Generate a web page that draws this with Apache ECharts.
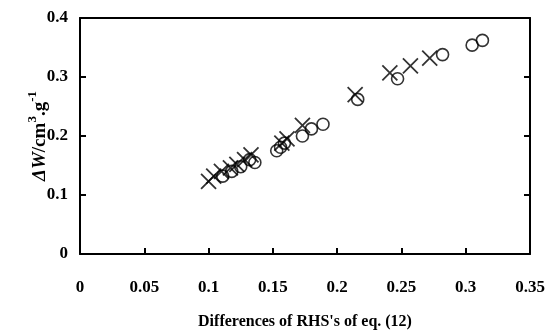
<!DOCTYPE html>
<html><head><meta charset="utf-8">
<script src="https://cdn.jsdelivr.net/npm/echarts@6/dist/echarts.min.js"></script>
<style>html,body{margin:0;padding:0;background:#fff}#c{width:548px;height:335px}</style>
</head><body><div id="c"></div>
<script>
const xTicks = [0, 0.05, 0.1, 0.15, 0.2, 0.25, 0.3, 0.35];
const yTicks = [0, 0.1, 0.2, 0.3, 0.4];
const crossX = [0.100, 0.104, 0.110, 0.117, 0.122, 0.128, 0.133, 0.157, 0.161, 0.173, 0.214, 0.241, 0.257, 0.272];
const crossY = [0.123, 0.132, 0.140, 0.146, 0.152, 0.160, 0.168, 0.188, 0.195, 0.218, 0.270, 0.307, 0.319, 0.332];
const circX = [0.111, 0.118, 0.125, 0.132, 0.136, 0.153, 0.156, 0.159, 0.173, 0.180, 0.189, 0.216, 0.247, 0.282, 0.305, 0.313];
const circY = [0.132, 0.140, 0.148, 0.160, 0.155, 0.175, 0.181, 0.188, 0.200, 0.212, 0.220, 0.262, 0.297, 0.338, 0.354, 0.362];

const font = 'Liberation Serif';
const zip = (a, b) => a.map((v, i) => [v, b[i]]);
const chart = echarts.init(document.getElementById('c'));
const lineStyle = {color: '#000', width: 2};
chart.setOption({
  animation: false,
  grid: {left: 80, right: 18, top: 18, bottom: 74},
  xAxis: [{
    type: 'value', min: 0, max: 0.35, interval: 0.05,
    axisLine: {show: true, onZero: false, lineStyle},
    axisTick: {show: true, inside: true, length: 6, lineStyle},
    splitLine: {show: false},
    axisLabel: {margin: 25, color: '#000', fontFamily: font, fontWeight: 'bold', fontSize: 17,
      formatter: v => String(+v.toFixed(2))},
    name: "Differences of RHS's of eq. (12)", nameLocation: 'middle', nameGap: 60,
    nameTextStyle: {color: '#000', fontFamily: font, fontWeight: 'bold', fontSize: 16}
  }, {
    type: 'value', position: 'top', min: 0, max: 0.35, interval: 0.05,
    axisLine: {show: true, onZero: false, lineStyle},
    axisTick: {show: false}, axisLabel: {show: false}, splitLine: {show: false}
  }],
  yAxis: [{
    type: 'value', min: 0, max: 0.4, interval: 0.1,
    axisLine: {show: true, onZero: false, lineStyle},
    axisTick: {show: true, inside: true, length: 6, lineStyle},
    splitLine: {show: false},
    axisLabel: {margin: 12, color: '#000', fontFamily: font, fontWeight: 'bold', fontSize: 17,
      formatter: v => String(+v.toFixed(1))},
    name: '{i|ΔW}{n|/cm}{s|3}{n|.g}{s|-1}', nameLocation: 'middle', nameGap: 30, nameRotate: 90,
    nameMoveOverlap: false,
    nameTextStyle: {
      color: '#000', fontFamily: font, fontWeight: 'bold', fontSize: 19,
      rich: {
        i: {fontStyle: 'italic', fontWeight: 'bold', fontFamily: font, fontSize: 19, color: '#000', lineHeight: 24, verticalAlign: 'bottom'},
        n: {fontWeight: 'bold', fontFamily: font, fontSize: 19, color: '#000', lineHeight: 24, verticalAlign: 'bottom'},
        s: {fontWeight: 'bold', fontFamily: font, fontSize: 13, color: '#000', lineHeight: 24, verticalAlign: 'top'}
      }
    }
  }, {
    type: 'value', position: 'right', min: 0, max: 0.4, interval: 0.1,
    axisLine: {show: true, onZero: false, lineStyle},
    axisTick: {show: true, inside: true, length: 6, lineStyle},
    axisLabel: {show: false}, splitLine: {show: false}
  }],
  series: [{
    type: 'scatter', data: zip(circX, circY), symbol: 'circle', symbolSize: 12,
    itemStyle: {color: 'rgba(255,255,255,0)', borderColor: '#000', borderWidth: 1.6}
  }, {
    type: 'scatter', data: zip(crossX, crossY), symbol: 'path://M0,0L10,10M10,0L0,10', symbolSize: 15,
    itemStyle: {color: 'none', borderColor: '#000', borderWidth: 1.8}
  }]
});
</script></body></html>
